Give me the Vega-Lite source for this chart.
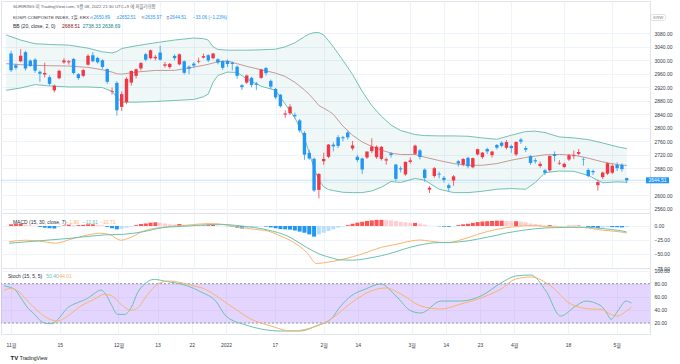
{
"$schema": "https://vega.github.io/schema/vega-lite/v6.json",
"padding": 0,
"background": "white",
"spacing": 0,
"bounds": "flush",
"config": {
  "view": {"stroke": "#e0e3eb"},
  "axis": {"labelFont": "Liberation Sans", "labelFontSize": 5, "labelColor": "#363a45", "ticks": false, "tickSize": 0, "domain": false, "title": null, "gridColor": "#f0f3fa", "gridWidth": 1, "labelOverlap": false, "labelFlush": false, "labelBound": false},
  "text": {"font": "Liberation Sans, Noto Sans CJK KR", "fontSize": 5, "baseline": "middle", "align": "left"}
},
"datasets": {
  "ohlc": [
{"i":-1,"o":3020,"h":3028,"l":2965,"c":2970.7},{"i":0,"o":2985,"h":2990,"l":2972,"c":2978},{"i":1,"o":2997,"h":3033,"l":2994,"c":3013.4},{"i":2,"o":3024,"h":3028,"l":2970,"c":2975.7},{"i":3,"o":2999,"h":3003,"l":2980,"c":2983.2},{"i":4,"o":3002,"h":3006,"l":2963,"c":2969.3},{"i":5,"o":2966,"h":2970,"l":2936,"c":2960.2},{"i":6,"o":2958,"h":2993,"l":2949,"c":2962.5},{"i":7,"o":2950,"h":2955,"l":2925,"c":2930.2},{"i":8,"o":2911,"h":2928,"l":2905,"c":2924.9},{"i":9,"o":2947,"h":2972,"l":2944,"c":2968.8},{"i":10,"o":2994,"h":3006,"l":2990,"c":2999.5},{"i":11,"o":2994,"h":3001,"l":2987,"c":2997.2},{"i":12,"o":3004,"h":3007,"l":2958,"c":2962.4},{"i":13,"o":2959,"h":2962,"l":2942,"c":2947.4},{"i":14,"o":2954,"h":2975,"l":2950,"c":2971},{"i":15,"o":2987,"h":3018,"l":2984,"c":3013.3},{"i":16,"o":3015,"h":3024,"l":2994,"c":2997.3},{"i":17,"o":3007,"h":3010,"l":2990,"c":2994.3},{"i":18,"o":3000,"h":3003,"l":2975,"c":2980.3},{"i":19,"o":2974,"h":2976,"l":2930,"c":2936.4},{"i":20,"o":2907,"h":2919,"l":2898,"c":2909.3},{"i":21,"o":2933,"h":2938,"l":2836,"c":2852},{"i":22,"o":2862,"h":2908,"l":2850,"c":2899.7},{"i":23,"o":2876,"h":2950,"l":2870,"c":2945.3},{"i":24,"o":2934,"h":2970,"l":2925,"c":2968.3},{"i":25,"o":2954,"h":2976,"l":2946,"c":2973.3},{"i":26,"o":2976,"h":2995,"l":2970,"c":2991.7},{"i":27,"o":3018,"h":3022,"l":2997,"c":3001.8},{"i":28,"o":3006,"h":3032,"l":3003,"c":3029.6},{"i":29,"o":3006,"h":3016,"l":3000,"c":3010.2},{"i":30,"o":3023,"h":3043,"l":2999,"c":3001.7},{"i":31,"o":2984,"h":2995,"l":2978,"c":2988},{"i":32,"o":2980,"h":2992,"l":2975,"c":2989.4},{"i":33,"o":3013,"h":3018,"l":3000,"c":3006.4},{"i":34,"o":2988,"h":3020,"l":2985,"c":3017.7},{"i":35,"o":2997,"h":3000,"l":2958,"c":2963},{"i":36,"o":2981,"h":2985,"l":2959,"c":2975},{"i":37,"o":2990,"h":2995,"l":2978,"c":2984.5},{"i":38,"o":2996,"h":3008,"l":2991,"c":2998.2},{"i":39,"o":3008,"h":3020,"l":3005,"c":3012.4},{"i":40,"o":3015,"h":3018,"l":2995,"c":2999.6},{"i":41,"o":3006,"h":3022,"l":3003,"c":3020.2},{"i":42,"o":3003,"h":3006,"l":2988,"c":2993.3},{"i":43,"o":2998,"h":3000,"l":2972,"c":2977.7},{"i":44,"o":2998,"h":3002,"l":2980,"c":2988.8},{"i":45,"o":2993,"h":2996,"l":2970,"c":2989.2},{"i":46,"o":2981,"h":2985,"l":2945,"c":2954},{"i":47,"o":2926,"h":2930,"l":2912,"c":2920.5},{"i":48,"o":2934,"h":2958,"l":2930,"c":2954.9},{"i":49,"o":2948,"h":2951,"l":2920,"c":2926.7},{"i":50,"o":2931,"h":2936,"l":2912,"c":2927.4},{"i":51,"o":2948,"h":2975,"l":2945,"c":2972.5},{"i":52,"o":2977,"h":2980,"l":2955,"c":2962.1},{"i":53,"o":2939,"h":2943,"l":2915,"c":2921.9},{"i":54,"o":2915,"h":2918,"l":2885,"c":2890.1},{"i":55,"o":2898,"h":2900,"l":2860,"c":2864.2},{"i":56,"o":2839,"h":2852,"l":2830,"c":2842.3},{"i":57,"o":2843,"h":2870,"l":2838,"c":2862.7},{"i":58,"o":2838,"h":2845,"l":2828,"c":2834.3},{"i":59,"o":2822,"h":2826,"l":2786,"c":2792},{"i":60,"o":2785,"h":2790,"l":2705,"c":2720.4},{"i":61,"o":2726,"h":2735,"l":2705,"c":2709.2},{"i":62,"o":2708,"h":2712,"l":2610,"c":2614.5},{"i":63,"o":2616,"h":2666,"l":2591,"c":2663.3},{"i":64,"o":2701,"h":2726,"l":2690,"c":2707.8},{"i":65,"o":2714,"h":2752,"l":2710,"c":2750.3},{"i":66,"o":2750,"h":2757,"l":2730,"c":2745.1},{"i":67,"o":2772,"h":2778,"l":2740,"c":2746.5},{"i":68,"o":2772,"h":2776,"l":2760,"c":2768.9},{"i":69,"o":2786,"h":2790,"l":2765,"c":2771.9},{"i":70,"o":2739,"h":2761,"l":2733,"c":2747.7},{"i":71,"o":2714,"h":2720,"l":2698,"c":2704.5},{"i":72,"o":2709,"h":2712,"l":2663,"c":2676.5},{"i":73,"o":2712,"h":2730,"l":2708,"c":2729.7},{"i":74,"o":2731,"h":2769,"l":2725,"c":2744.5},{"i":75,"o":2713,"h":2748,"l":2708,"c":2744.1},{"i":76,"o":2708,"h":2746,"l":2703,"c":2743.8},{"i":77,"o":2703,"h":2712,"l":2691,"c":2706.8},{"i":78,"o":2724,"h":2728,"l":2712,"c":2719.5},{"i":79,"o":2691,"h":2693,"l":2643,"c":2648.8},{"i":80,"o":2680,"h":2686,"l":2668,"c":2676.8},{"i":81,"o":2662,"h":2700,"l":2658,"c":2699.2},{"i":82,"o":2699,"h":2712,"l":2694,"c":2703.5},{"i":83,"o":2723,"h":2750,"l":2720,"c":2747.1},{"i":84,"o":2733,"h":2737,"l":2706,"c":2713.4},{"i":85,"o":2676,"h":2680,"l":2640,"c":2651.3},{"i":86,"o":2617,"h":2628,"l":2607,"c":2622.4},{"i":87,"o":2657,"h":2684,"l":2652,"c":2680.3},{"i":88,"o":2664,"h":2670,"l":2650,"c":2661.3},{"i":89,"o":2652,"h":2657,"l":2638,"c":2645.7},{"i":90,"o":2630,"h":2635,"l":2612,"c":2621.5},{"i":91,"o":2644,"h":2660,"l":2628,"c":2656.1},{"i":92,"o":2701,"h":2705,"l":2685,"c":2694.5},{"i":93,"o":2691,"h":2710,"l":2686,"c":2707.6},{"i":94,"o":2711,"h":2714,"l":2680,"c":2686.1},{"i":95,"o":2683,"h":2712,"l":2680,"c":2710},{"i":96,"o":2721,"h":2738,"l":2718,"c":2736.6},{"i":97,"o":2713,"h":2728,"l":2708,"c":2726.5},{"i":98,"o":2737,"h":2741,"l":2722,"c":2730},{"i":99,"o":2719,"h":2732,"l":2712,"c":2729.6},{"i":100,"o":2749,"h":2752,"l":2736,"c":2741.1},{"i":101,"o":2756,"h":2760,"l":2742,"c":2746.7},{"i":102,"o":2741,"h":2764,"l":2736,"c":2757.7},{"i":103,"o":2746,"h":2750,"l":2726,"c":2739.9},{"i":104,"o":2721,"h":2760,"l":2716,"c":2757.9},{"i":105,"o":2765,"h":2770,"l":2752,"c":2759.2},{"i":106,"o":2740,"h":2746,"l":2728,"c":2735},{"i":107,"o":2716,"h":2719,"l":2690,"c":2695.9},{"i":108,"o":2704,"h":2710,"l":2694,"c":2700.4},{"i":109,"o":2687,"h":2700,"l":2682,"c":2693.1},{"i":110,"o":2674,"h":2678,"l":2660,"c":2666.8},{"i":111,"o":2674,"h":2718,"l":2670,"c":2716.7},{"i":112,"o":2722,"h":2730,"l":2700,"c":2716.5},{"i":113,"o":2694,"h":2704,"l":2690,"c":2696.1},{"i":114,"o":2684,"h":2697,"l":2680,"c":2693.2},{"i":115,"o":2706,"h":2722,"l":2702,"c":2718.9},{"i":116,"o":2716,"h":2733,"l":2707,"c":2718.7},{"i":117,"o":2723,"h":2737,"l":2718,"c":2728.2},{"i":118,"o":2706,"h":2712,"l":2688,"c":2704.7},{"i":119,"o":2675,"h":2680,"l":2653,"c":2657.1},{"i":120,"o":2672,"h":2676,"l":2660,"c":2668.3},{"i":121,"o":2630,"h":2645,"l":2614,"c":2639.1},{"i":122,"o":2654,"h":2670,"l":2648,"c":2667.5},{"i":123,"o":2664,"h":2697,"l":2660,"c":2695.1},{"i":124,"o":2667,"h":2692,"l":2663,"c":2687.5},{"i":125,"o":2690,"h":2698,"l":2672,"c":2680.5},{"i":126,"o":2690,"h":2695,"l":2670,"c":2677.6},{"i":127,"o":2650.89,"h":2652.51,"l":2635.97,"c":2644.51}
  ],
  "bb": [
{"i":-2,"u":3075,"b":2990,"l":2911},{"i":1,"u":3060,"b":2987,"l":2918},{"i":4,"u":3049,"b":2985,"l":2928},{"i":7,"u":3047,"b":2984,"l":2924},{"i":11,"u":3045,"b":2983,"l":2921},{"i":15,"u":3036,"b":2979,"l":2921},{"i":18,"u":3025,"b":2972,"l":2919},{"i":20,"u":3022,"b":2965,"l":2908},{"i":21,"u":3026,"b":2960,"l":2890},{"i":22,"u":3035,"b":2959,"l":2876},{"i":25,"u":3043,"b":2965,"l":2876},{"i":29,"u":3052,"b":2970,"l":2878},{"i":33,"u":3060,"b":2970,"l":2881},{"i":37,"u":3066,"b":2980,"l":2884},{"i":39,"u":3064,"b":2985,"l":2892},{"i":40,"u":3060,"b":2988,"l":2900},{"i":41,"u":3040,"b":2992,"l":2935},{"i":42,"u":3032,"b":2996,"l":2955},{"i":44,"u":3030,"b":2998,"l":2965},{"i":46,"u":3030,"b":2990,"l":2964},{"i":48,"u":3030,"b":2982,"l":2945},{"i":51,"u":3031,"b":2972,"l":2923},{"i":54,"u":3033,"b":2962,"l":2911},{"i":56,"u":3040,"b":2952,"l":2870},{"i":58,"u":3052,"b":2935,"l":2830},{"i":60,"u":3070,"b":2912,"l":2770},{"i":61,"u":3078,"b":2899,"l":2726},{"i":62,"u":3082,"b":2883,"l":2680},{"i":63,"u":3082,"b":2866,"l":2645},{"i":64,"u":3075,"b":2858,"l":2625},{"i":65,"u":3058,"b":2850,"l":2617},{"i":66,"u":3040,"b":2840,"l":2614},{"i":68,"u":3000,"b":2805,"l":2609},{"i":70,"u":2958,"b":2778,"l":2608},{"i":72,"u":2908,"b":2758,"l":2608},{"i":74,"u":2866,"b":2745,"l":2613},{"i":76,"u":2834,"b":2734,"l":2624},{"i":78,"u":2808,"b":2725,"l":2641},{"i":80,"u":2792,"b":2721,"l":2638},{"i":83,"u":2780,"b":2721,"l":2650},{"i":85,"u":2777,"b":2713,"l":2645},{"i":88,"u":2776,"b":2703,"l":2618},{"i":91,"u":2776,"b":2694,"l":2608},{"i":94,"u":2775,"b":2689,"l":2608},{"i":97,"u":2770,"b":2689,"l":2612},{"i":100,"u":2766,"b":2694,"l":2618},{"i":103,"u":2778,"b":2704,"l":2620},{"i":106,"u":2789,"b":2712,"l":2618},{"i":108,"u":2790,"b":2716,"l":2638},{"i":110,"u":2786,"b":2720,"l":2667},{"i":113,"u":2773,"b":2721,"l":2672},{"i":116,"u":2770,"b":2719,"l":2671},{"i":119,"u":2765,"b":2710,"l":2659},{"i":122,"u":2755,"b":2699,"l":2637},{"i":125,"u":2744,"b":2691,"l":2640},{"i":127,"u":2738.33,"b":2688.51,"l":2638.69}
  ],
  "last": [{"c": 2644.51}],
  "macd": [
{"i":-1.4,"s":"MACD","v":-27.9},{"i":2,"s":"MACD","v":-25.4},{"i":5,"s":"MACD","v":-27},{"i":8.2,"s":"MACD","v":-30.7},{"i":11.5,"s":"MACD","v":-23.5},{"i":15,"s":"MACD","v":-15.9},{"i":17.6,"s":"MACD","v":-13},{"i":19.7,"s":"MACD","v":-15.9},{"i":21.1,"s":"MACD","v":-23.5},{"i":21.8,"s":"MACD","v":-25.4},{"i":23.8,"s":"MACD","v":-20.7},{"i":26.6,"s":"MACD","v":-8.8},{"i":29.9,"s":"MACD","v":-2.9},{"i":33.3,"s":"MACD","v":0},{"i":36,"s":"MACD","v":1.8},{"i":40.1,"s":"MACD","v":4.3},{"i":42.8,"s":"MACD","v":3},{"i":46.9,"s":"MACD","v":-2.9},{"i":49.6,"s":"MACD","v":-5.9},{"i":52.3,"s":"MACD","v":-8.8},{"i":55,"s":"MACD","v":-17.7},{"i":57.8,"s":"MACD","v":-29.6},{"i":60.5,"s":"MACD","v":-47.3},{"i":62.5,"s":"MACD","v":-67},{"i":64.6,"s":"MACD","v":-65},{"i":67.3,"s":"MACD","v":-60.7},{"i":70,"s":"MACD","v":-55},{"i":73,"s":"MACD","v":-47},{"i":76,"s":"MACD","v":-38},{"i":79,"s":"MACD","v":-33},{"i":82,"s":"MACD","v":-27},{"i":84,"s":"MACD","v":-25},{"i":86,"s":"MACD","v":-27},{"i":88,"s":"MACD","v":-29},{"i":90,"s":"MACD","v":-30},{"i":92,"s":"MACD","v":-26},{"i":94,"s":"MACD","v":-21},{"i":96,"s":"MACD","v":-15},{"i":98,"s":"MACD","v":-10},{"i":100,"s":"MACD","v":-6},{"i":102,"s":"MACD","v":-3},{"i":104,"s":"MACD","v":-1},{"i":106,"s":"MACD","v":0.5},{"i":108,"s":"MACD","v":0.5},{"i":110,"s":"MACD","v":-1},{"i":112,"s":"MACD","v":-1.5},{"i":114,"s":"MACD","v":-2},{"i":116,"s":"MACD","v":-2},{"i":118,"s":"MACD","v":-2.5},{"i":120,"s":"MACD","v":-5},{"i":122,"s":"MACD","v":-7.5},{"i":124,"s":"MACD","v":-9},{"i":126,"s":"MACD","v":-11},{"i":127,"s":"MACD","v":-12.61},
{"i":-1.4,"s":"Signal","v":-30.7},{"i":4.7,"s":"Signal","v":-26.6},{"i":11.5,"s":"Signal","v":-21.8},{"i":18.4,"s":"Signal","v":-15.9},{"i":22.4,"s":"Signal","v":-14.8},{"i":26.6,"s":"Signal","v":-10},{"i":30.6,"s":"Signal","v":-2.9},{"i":36,"s":"Signal","v":0},{"i":42.1,"s":"Signal","v":3},{"i":46.9,"s":"Signal","v":0},{"i":52.3,"s":"Signal","v":-7},{"i":56.4,"s":"Signal","v":-17.7},{"i":60.5,"s":"Signal","v":-38.4},{"i":63.2,"s":"Signal","v":-50.4},{"i":65.9,"s":"Signal","v":-57.5},{"i":67.3,"s":"Signal","v":-60.4},{"i":70,"s":"Signal","v":-61},{"i":73,"s":"Signal","v":-58},{"i":76,"s":"Signal","v":-53},{"i":79,"s":"Signal","v":-46},{"i":82,"s":"Signal","v":-38},{"i":84,"s":"Signal","v":-34},{"i":86,"s":"Signal","v":-31},{"i":88,"s":"Signal","v":-29.5},{"i":90,"s":"Signal","v":-29.3},{"i":92,"s":"Signal","v":-28.5},{"i":94,"s":"Signal","v":-26.5},{"i":96,"s":"Signal","v":-23.5},{"i":98,"s":"Signal","v":-20},{"i":100,"s":"Signal","v":-16.5},{"i":102,"s":"Signal","v":-12.5},{"i":104,"s":"Signal","v":-9.5},{"i":106,"s":"Signal","v":-7},{"i":108,"s":"Signal","v":-5},{"i":110,"s":"Signal","v":-3.5},{"i":112,"s":"Signal","v":-3},{"i":114,"s":"Signal","v":-2.5},{"i":116,"s":"Signal","v":-2.3},{"i":118,"s":"Signal","v":-2.3},{"i":120,"s":"Signal","v":-3},{"i":122,"s":"Signal","v":-4.6},{"i":124,"s":"Signal","v":-6.5},{"i":126,"s":"Signal","v":-8.8},{"i":127,"s":"Signal","v":-10.71}
  ],
  "hist": [
{"i":-1,"h":3},{"i":0,"h":3.5},{"i":1,"h":4},{"i":2,"h":2.5},{"i":3,"h":1.5},{"i":4,"h":0.5},{"i":5,"h":-1.5},{"i":6,"h":-3},{"i":7,"h":-4},{"i":8,"h":-4.5},{"i":9,"h":-2},{"i":10,"h":1},{"i":11,"h":2.5},{"i":12,"h":1.5},{"i":13,"h":1.5},{"i":14,"h":2},{"i":15,"h":3},{"i":16,"h":3},{"i":17,"h":2.5},{"i":18,"h":1.5},{"i":19,"h":-1.5},{"i":20,"h":-4},{"i":21,"h":-6},{"i":22,"h":-5},{"i":23,"h":-3},{"i":24,"h":-1},{"i":25,"h":1.5},{"i":26,"h":3.5},{"i":27,"h":4.5},{"i":28,"h":6},{"i":29,"h":6.5},{"i":30,"h":6},{"i":31,"h":4.5},{"i":32,"h":3},{"i":33,"h":2.5},{"i":34,"h":3.5},{"i":35,"h":1.5},{"i":36,"h":0.5},{"i":37,"h":0.3},{"i":38,"h":0.5},{"i":39,"h":1},{"i":40,"h":1.5},{"i":41,"h":2},{"i":42,"h":1},{"i":43,"h":0.3},{"i":44,"h":-0.3},{"i":45,"h":-1},{"i":46,"h":-3},{"i":47,"h":-4.5},{"i":48,"h":-3},{"i":49,"h":-2.5},{"i":50,"h":-2},{"i":51,"h":-0.5},{"i":52,"h":-1},{"i":53,"h":-2.5},{"i":54,"h":-4},{"i":55,"h":-5.5},{"i":56,"h":-6},{"i":57,"h":-6.5},{"i":58,"h":-8},{"i":59,"h":-10},{"i":60,"h":-12},{"i":61,"h":-15},{"i":62,"h":-19},{"i":63,"h":-15},{"i":64,"h":-12},{"i":65,"h":-9},{"i":66,"h":-6},{"i":67,"h":-3},{"i":68,"h":-1},{"i":69,"h":1.5},{"i":70,"h":4},{"i":71,"h":6},{"i":72,"h":7.5},{"i":73,"h":9},{"i":74,"h":10},{"i":75,"h":11},{"i":76,"h":11},{"i":77,"h":10.5},{"i":78,"h":10},{"i":79,"h":9},{"i":80,"h":7.5},{"i":81,"h":6.5},{"i":82,"h":5.5},{"i":83,"h":5.5},{"i":84,"h":4.5},{"i":85,"h":2.5},{"i":86,"h":0.5},{"i":87,"h":0.2},{"i":88,"h":-0.5},{"i":89,"h":-1.2},{"i":90,"h":-1.5},{"i":91,"h":-0.5},{"i":92,"h":1.5},{"i":93,"h":3},{"i":94,"h":4},{"i":95,"h":5.5},{"i":96,"h":7},{"i":97,"h":8},{"i":98,"h":8.5},{"i":99,"h":9},{"i":100,"h":9.5},{"i":101,"h":9.5},{"i":102,"h":9},{"i":103,"h":8.5},{"i":104,"h":8.5},{"i":105,"h":8},{"i":106,"h":6.5},{"i":107,"h":4.5},{"i":108,"h":3.5},{"i":109,"h":2.5},{"i":110,"h":1},{"i":111,"h":1.5},{"i":112,"h":1},{"i":113,"h":0.3},{"i":114,"h":0},{"i":115,"h":0.5},{"i":116,"h":0.5},{"i":117,"h":0.8},{"i":118,"h":0.2},{"i":119,"h":-1.5},{"i":120,"h":-2.2},{"i":121,"h":-3.5},{"i":122,"h":-3},{"i":123,"h":-2},{"i":124,"h":-2},{"i":125,"h":-2.2},{"i":126,"h":-2.5},{"i":127,"h":-1.9}
  ],
  "stoch": [
{"i":-1.4,"s":"K","v":76.4},{"i":0.7,"s":"K","v":71.4},{"i":2,"s":"K","v":58.6},{"i":3.4,"s":"K","v":43.3},{"i":4.8,"s":"K","v":33.3},{"i":6.1,"s":"K","v":23},{"i":7.5,"s":"K","v":19},{"i":8.5,"s":"K","v":19},{"i":9.6,"s":"K","v":25.6},{"i":11.6,"s":"K","v":43.3},{"i":13.6,"s":"K","v":51},{"i":15.7,"s":"K","v":57.7},{"i":17,"s":"K","v":64.7},{"i":18.4,"s":"K","v":70.3},{"i":19.4,"s":"K","v":63.8},{"i":20.5,"s":"K","v":48.5},{"i":21.8,"s":"K","v":33.3},{"i":23.2,"s":"K","v":33},{"i":24.6,"s":"K","v":43.3},{"i":25.9,"s":"K","v":66.2},{"i":27.3,"s":"K","v":79},{"i":29.3,"s":"K","v":86.6},{"i":31.4,"s":"K","v":84},{"i":33.4,"s":"K","v":81.5},{"i":36.2,"s":"K","v":76.4},{"i":38.9,"s":"K","v":67.3},{"i":41.9,"s":"K","v":53.5},{"i":44,"s":"K","v":30.6},{"i":48.1,"s":"K","v":16.9},{"i":51.2,"s":"K","v":10.8},{"i":55.2,"s":"K","v":7.8},{"i":59.3,"s":"K","v":7.8},{"i":62.4,"s":"K","v":15.4},{"i":65.5,"s":"K","v":26},{"i":67.5,"s":"K","v":45.9},{"i":69.6,"s":"K","v":61.2},{"i":72.6,"s":"K","v":71.9},{"i":75.7,"s":"K","v":79.5},{"i":78.8,"s":"K","v":61.2},{"i":81.9,"s":"K","v":38.3},{"i":83.9,"s":"K","v":35.2},{"i":88,"s":"K","v":53.5},{"i":92.1,"s":"K","v":53.5},{"i":96.2,"s":"K","v":61.2},{"i":100.3,"s":"K","v":81},{"i":103.3,"s":"K","v":91.7},{"i":106.4,"s":"K","v":93.2},{"i":109.5,"s":"K","v":68.8},{"i":112.5,"s":"K","v":30.6},{"i":115.6,"s":"K","v":45.9},{"i":117.7,"s":"K","v":53.5},{"i":120.8,"s":"K","v":45.9},{"i":122.1,"s":"K","v":33.2},{"i":122.8,"s":"K","v":25.6},{"i":124.2,"s":"K","v":38.3},{"i":125.9,"s":"K","v":53.5},{"i":127,"s":"K","v":50.4},
{"i":-1.4,"s":"D","v":69.9},{"i":0,"s":"D","v":72.9},{"i":1.4,"s":"D","v":68.8},{"i":3.4,"s":"D","v":53.5},{"i":5.5,"s":"D","v":38.3},{"i":7.5,"s":"D","v":27.1},{"i":9.6,"s":"D","v":23},{"i":11.6,"s":"D","v":30.7},{"i":14.3,"s":"D","v":45.9},{"i":17,"s":"D","v":56.1},{"i":19.1,"s":"D","v":63.8},{"i":20.5,"s":"D","v":62},{"i":22.5,"s":"D","v":48.5},{"i":24.6,"s":"D","v":39.3},{"i":25.9,"s":"D","v":43},{"i":28,"s":"D","v":63.8},{"i":30,"s":"D","v":79},{"i":32.1,"s":"D","v":84},{"i":34.8,"s":"D","v":81.5},{"i":37.5,"s":"D","v":76.4},{"i":38.9,"s":"D","v":73.9},{"i":45,"s":"D","v":45.9},{"i":49.1,"s":"D","v":26},{"i":53.2,"s":"D","v":15.4},{"i":57.3,"s":"D","v":7.8},{"i":61.4,"s":"D","v":12.4},{"i":65.5,"s":"D","v":26},{"i":69.6,"s":"D","v":50.5},{"i":73.7,"s":"D","v":68.8},{"i":76.7,"s":"D","v":73.4},{"i":79.8,"s":"D","v":64.2},{"i":83.9,"s":"D","v":45.9},{"i":88,"s":"D","v":41.3},{"i":92.1,"s":"D","v":49},{"i":96.2,"s":"D","v":58.1},{"i":100.3,"s":"D","v":71.9},{"i":103.3,"s":"D","v":87.1},{"i":106.4,"s":"D","v":90.2},{"i":110.5,"s":"D","v":76.4},{"i":114.6,"s":"D","v":49},{"i":118.7,"s":"D","v":41.3},{"i":120.8,"s":"D","v":40.9},{"i":122.8,"s":"D","v":33.2},{"i":124.2,"s":"D","v":30.6},{"i":125.5,"s":"D","v":35.7},{"i":127,"s":"D","v":44.01}
  ],
  "lvl": [{"v": 80}, {"v": 20}],
  "band": [{"hi": 80, "lo": 20}]
},
"vconcat": [
{
  "width": 649, "height": 212,
  "layer": [
    {"data": {"name": "bb"}, "mark": {"type": "area", "color": "#198787", "opacity": 0.07},
     "encoding": {
       "x": {"field": "i", "type": "quantitative", "scale": {"domain": [-2.05, 130.8], "nice": false, "zero": false}, "axis": {"values": [0,10,22,30,37,44,54,64,71,82,89,96,103,114,124], "tickCount": 100, "labels": false, "grid": true, "labelOverlap": false}},
       "y": {"field": "u", "type": "quantitative", "scale": {"domain": [2547.6, 3175.7], "nice": false, "zero": false}, "axis": {"orient": "right", "values": [2560,2600,2640,2680,2720,2760,2800,2840,2880,2920,2960,3000,3040,3080], "tickCount": 100, "labelExpr": "datum.value == 2640 ? '' : format(datum.value, '.2f')", "labelPadding": 4, "grid": true, "labelOverlap": false}},
       "y2": {"field": "l"}}},
    {"data": {"name": "bb"}, "mark": {"type": "line", "color": "#74c1b3", "strokeWidth": 1},
     "encoding": {"x": {"field": "i", "type": "quantitative", "scale": {"domain": [-2.05, 130.8], "nice": false, "zero": false}},
       "y": {"field": "u", "type": "quantitative", "scale": {"domain": [2547.6, 3175.7], "nice": false, "zero": false}}}},
    {"data": {"name": "bb"}, "mark": {"type": "line", "color": "#74c1b3", "strokeWidth": 1},
     "encoding": {"x": {"field": "i", "type": "quantitative", "scale": {"domain": [-2.05, 130.8], "nice": false, "zero": false}},
       "y": {"field": "l", "type": "quantitative", "scale": {"domain": [2547.6, 3175.7], "nice": false, "zero": false}}}},
    {"data": {"name": "bb"}, "mark": {"type": "line", "color": "#c39b98", "strokeWidth": 1},
     "encoding": {"x": {"field": "i", "type": "quantitative", "scale": {"domain": [-2.05, 130.8], "nice": false, "zero": false}},
       "y": {"field": "b", "type": "quantitative", "scale": {"domain": [2547.6, 3175.7], "nice": false, "zero": false}}}},
    {"data": {"name": "last"}, "mark": {"type": "rule", "color": "#2196f3", "opacity": 0.25, "strokeWidth": 1},
     "encoding": {"y": {"field": "c", "type": "quantitative", "scale": {"domain": [2547.6, 3175.7], "nice": false, "zero": false}}}},
    {"data": {"name": "ohlc"}, "mark": {"type": "rule", "strokeWidth": 1, "opacity": 0.75},
     "encoding": {"x": {"field": "i", "type": "quantitative", "scale": {"domain": [-2.05, 130.8], "nice": false, "zero": false}},
       "y": {"field": "l", "type": "quantitative", "scale": {"domain": [2547.6, 3175.7], "nice": false, "zero": false}},
       "y2": {"field": "h"},
       "color": {"condition": {"test": "datum.c >= datum.o", "value": "#f23645"}, "value": "#2196f3"}}},
    {"data": {"name": "ohlc"}, "mark": {"type": "bar", "size": 3.4},
     "encoding": {"x": {"field": "i", "type": "quantitative", "scale": {"domain": [-2.05, 130.8], "nice": false, "zero": false}},
       "y": {"field": "o", "type": "quantitative", "scale": {"domain": [2547.6, 3175.7], "nice": false, "zero": false}},
       "y2": {"field": "c"},
       "color": {"condition": {"test": "datum.c >= datum.o", "value": "#f23645"}, "value": "#2196f3"}}},
    {"data": {"name": "last"}, "mark": {"type": "rect", "color": "#2196f3", "yOffset": -3, "y2Offset": 3},
     "encoding": {"x": {"datum": 131.0, "type": "quantitative", "scale": {"domain": [-2.05, 130.8], "nice": false, "zero": false}},
       "x2": {"datum": 135.8},
       "y": {"field": "c", "type": "quantitative", "scale": {"domain": [2547.6, 3175.7], "nice": false, "zero": false}},
       "y2": {"field": "c"}}},
    {"data": {"name": "last"}, "mark": {"type": "text", "color": "white", "align": "center"},
     "encoding": {"x": {"datum": 133.4, "type": "quantitative", "scale": {"domain": [-2.05, 130.8], "nice": false, "zero": false}},
       "y": {"field": "c", "type": "quantitative", "scale": {"domain": [2547.6, 3175.7], "nice": false, "zero": false}},
       "text": {"field": "c", "format": ".2f"}}},
    {"data": {"values": [{}]}, "mark": {"type": "rect", "fill": "white", "stroke": "#d1d4dc", "strokeWidth": 0.7, "cornerRadius": 2},
     "encoding": {"x": {"datum": 132.0, "type": "quantitative", "scale": {"domain": [-2.05, 130.8], "nice": false, "zero": false}},
       "x2": {"datum": 135.1},
       "y": {"datum": 3135.7, "type": "quantitative", "scale": {"domain": [2547.6, 3175.7], "nice": false, "zero": false}},
       "y2": {"datum": 3117.9}}},
    {"data": {"values": [{}]}, "mark": {"type": "text", "color": "#787b86", "align": "center", "fontSize": 4.3},
     "encoding": {"x": {"datum": 133.57, "type": "quantitative", "scale": {"domain": [-2.05, 130.8], "nice": false, "zero": false}},
       "y": {"datum": 3126.8, "type": "quantitative", "scale": {"domain": [2547.6, 3175.7], "nice": false, "zero": false}},
       "text": {"value": "KRW"}}},
    {"data": {"values": [{}]}, "mark": {"type": "text", "color": "#5d606b", "fontSize": 4.4},
     "encoding": {"x": {"datum": -0.62, "type": "quantitative", "scale": {"domain": [-2.05, 130.8], "nice": false, "zero": false}},
       "y": {"datum": 3159.4, "type": "quantitative", "scale": {"domain": [2547.6, 3175.7], "nice": false, "zero": false}},
       "text": {"value": "SURIRING 이 TradingView.com, 5월 08, 2022 21:30 UTC+9 에 퍼블리쉬함"}}},
    {"data": {"values": [{}]}, "mark": {"type": "text", "color": "#2a2e39", "fontSize": 4.4},
     "encoding": {"x": {"datum": -0.62, "type": "quantitative", "scale": {"domain": [-2.05, 130.8], "nice": false, "zero": false}},
       "y": {"datum": 3126.2, "type": "quantitative", "scale": {"domain": [2547.6, 3175.7], "nice": false, "zero": false}},
       "text": {"value": "KOSPI COMPOSITE INDEX, 1일, KRX"}}},
    {"data": {"values": [{"t": "시", "x": 15.35}, {"t": "고", "x": 20.84}, {"t": "저", "x": 26.05}, {"t": "종", "x": 31.25}]}, "mark": {"type": "text", "color": "#5d606b", "fontSize": 3.6},
     "encoding": {"x": {"field": "x", "type": "quantitative", "scale": {"domain": [-2.05, 130.8], "nice": false, "zero": false}},
       "y": {"datum": 3126.2, "type": "quantitative", "scale": {"domain": [2547.6, 3175.7], "nice": false, "zero": false}},
       "text": {"field": "t"}}},
    {"data": {"values": [{"t": "2650.89", "x": 16.15}, {"t": "2652.51", "x": 21.5}, {"t": "2635.97", "x": 26.85}, {"t": "2644.51", "x": 32.0}, {"t": "−33.06 (−1.23%)", "x": 36.8}]}, "mark": {"type": "text", "color": "#2196f3", "fontSize": 4.6},
     "encoding": {"x": {"field": "x", "type": "quantitative", "scale": {"domain": [-2.05, 130.8], "nice": false, "zero": false}},
       "y": {"datum": 3126.2, "type": "quantitative", "scale": {"domain": [2547.6, 3175.7], "nice": false, "zero": false}},
       "text": {"field": "t"}}},
    {"data": {"values": [{}]}, "mark": {"type": "text", "color": "#2a2e39"},
     "encoding": {"x": {"datum": -0.62, "type": "quantitative", "scale": {"domain": [-2.05, 130.8], "nice": false, "zero": false}},
       "y": {"datum": 3101.6, "type": "quantitative", "scale": {"domain": [2547.6, 3175.7], "nice": false, "zero": false}},
       "text": {"value": "BB (20, close, 2, 0)"}}},
    {"data": {"values": [{}]}, "mark": {"type": "text", "color": "#872323"},
     "encoding": {"x": {"datum": 9.6, "type": "quantitative", "scale": {"domain": [-2.05, 130.8], "nice": false, "zero": false}},
       "y": {"datum": 3101.6, "type": "quantitative", "scale": {"domain": [2547.6, 3175.7], "nice": false, "zero": false}},
       "text": {"value": "2688.51"}}},
    {"data": {"values": [{}]}, "mark": {"type": "text", "color": "#138484"},
     "encoding": {"x": {"datum": 13.9, "type": "quantitative", "scale": {"domain": [-2.05, 130.8], "nice": false, "zero": false}},
       "y": {"datum": 3101.6, "type": "quantitative", "scale": {"domain": [2547.6, 3175.7], "nice": false, "zero": false}},
       "text": {"value": "2738.33  2638.69"}}}
  ]
},
{
  "width": 649, "height": 55,
  "layer": [
    {"data": {"name": "hist"},
     "transform": [{"window": [{"op": "lag", "field": "h", "as": "p"}], "sort": [{"field": "i", "order": "ascending"}]}],
     "mark": {"type": "bar", "size": 4},
     "encoding": {
       "x": {"field": "i", "type": "quantitative", "scale": {"domain": [-2.05, 130.8], "nice": false, "zero": false}, "axis": {"values": [0,10,22,30,37,44,54,64,71,82,89,96,103,114,124], "tickCount": 100, "labels": false, "grid": true, "labelOverlap": false}},
       "y": {"field": "h", "type": "quantitative", "scale": {"domain": [-75, 23.2], "nice": false, "zero": false}, "axis": {"orient": "right", "values": [-75, -50, -25, 0], "tickCount": 100, "format": ".2f", "labelPadding": 4, "grid": true, "labelOverlap": false}},
       "y2": {"datum": 0},
       "color": {"condition": [
         {"test": "datum.h >= 0 && (datum.p == null || datum.h >= datum.p)", "value": "#ff5252"},
         {"test": "datum.h >= 0", "value": "#ffcdd2"},
         {"test": "datum.p == null || datum.h <= datum.p", "value": "#2196f3"}], "value": "#bbdefb"}}},
    {"data": {"name": "macd"}, "mark": {"type": "line", "strokeWidth": 1, "interpolate": "monotone"},
     "encoding": {
       "x": {"field": "i", "type": "quantitative", "scale": {"domain": [-2.05, 130.8], "nice": false, "zero": false}},
       "y": {"field": "v", "type": "quantitative", "scale": {"domain": [-75, 23.2], "nice": false, "zero": false}},
       "color": {"field": "s", "type": "nominal", "scale": {"domain": ["MACD", "Signal"], "range": ["#f9b46a", "#6cc2ae"]}, "legend": null}}},
    {"data": {"values": [{}]}, "mark": {"type": "text", "color": "#2a2e39"},
     "encoding": {"x": {"datum": -0.62, "type": "quantitative", "scale": {"domain": [-2.05, 130.8], "nice": false, "zero": false}},
       "y": {"datum": 7.1, "type": "quantitative", "scale": {"domain": [-75, 23.2], "nice": false, "zero": false}},
       "text": {"value": "MACD (15, 30, close, 7)"}}},
    {"data": {"values": [{"t": "−1.90", "x": 10.5, "k": "h"}, {"t": "−12.61", "x": 13.9, "k": "m"}, {"t": "−10.71", "x": 17.5, "k": "s"}]}, "mark": {"type": "text"},
     "encoding": {"x": {"field": "x", "type": "quantitative", "scale": {"domain": [-2.05, 130.8], "nice": false, "zero": false}},
       "y": {"datum": 7.1, "type": "quantitative", "scale": {"domain": [-75, 23.2], "nice": false, "zero": false}},
       "text": {"field": "t"},
       "color": {"field": "k", "type": "nominal", "scale": {"domain": ["h", "m", "s"], "range": ["#2196f3", "#ff9800", "#26a69a"]}, "legend": null}}}
  ]
},
{
  "width": 649, "height": 66,
  "layer": [
    {"data": {"name": "band"}, "mark": {"type": "rect", "color": "#b388ff", "opacity": 0.35},
     "encoding": {
       "x": {"datum": -2.05, "type": "quantitative", "scale": {"domain": [-2.05, 130.8], "nice": false, "zero": false}, "axis": {"values": [0,10,22,30,37,44,54,64,71,82,89,96,103,114,124], "tickCount": 100, "labelExpr": "datum.value==0?'11월':datum.value==10?'15':datum.value==22?'12월':datum.value==30?'13':datum.value==37?'22':datum.value==44?'2022':datum.value==54?'17':datum.value==64?'2월':datum.value==71?'14':datum.value==82?'3월':datum.value==89?'14':datum.value==96?'23':datum.value==103?'4월':datum.value==114?'18':'5월'", "labelFont": "Liberation Sans, Noto Sans CJK KR", "labelPadding": 8, "grid": true, "labelOverlap": false}},
       "x2": {"datum": 130.8},
       "y": {"field": "hi", "type": "quantitative", "scale": {"domain": [3.2, 103.9], "nice": false, "zero": false}, "axis": {"orient": "right", "values": [20, 40, 60, 80, 100], "tickCount": 100, "format": ".2f", "labelPadding": 4, "grid": true, "labelOverlap": false}},
       "y2": {"field": "lo"}}},
    {"data": {"name": "lvl"}, "mark": {"type": "rule", "color": "#9598a1", "strokeWidth": 1, "strokeDash": [2, 2]},
     "encoding": {"y": {"field": "v", "type": "quantitative", "scale": {"domain": [3.2, 103.9], "nice": false, "zero": false}}}},
    {"data": {"name": "stoch"}, "mark": {"type": "line", "strokeWidth": 1, "interpolate": "monotone"},
     "encoding": {
       "x": {"field": "i", "type": "quantitative", "scale": {"domain": [-2.05, 130.8], "nice": false, "zero": false}},
       "y": {"field": "v", "type": "quantitative", "scale": {"domain": [3.2, 103.9], "nice": false, "zero": false}},
       "color": {"field": "s", "type": "nominal", "scale": {"domain": ["K", "D"], "range": ["#f4a27a", "#6f98d6"]}, "legend": null}}},
    {"data": {"values": [{}]}, "mark": {"type": "text", "color": "#2a2e39"},
     "encoding": {"x": {"datum": -0.62, "type": "quantitative", "scale": {"domain": [-2.05, 130.8], "nice": false, "zero": false}},
       "y": {"datum": 91.7, "type": "quantitative", "scale": {"domain": [3.2, 103.9], "nice": false, "zero": false}},
       "text": {"value": "Stoch (15, 5, 5)"}}},
    {"data": {"values": [{"t": "50.40", "x": 7.2, "k": "K"}, {"t": "44.01", "x": 9.9, "k": "D"}]}, "mark": {"type": "text"},
     "encoding": {"x": {"field": "x", "type": "quantitative", "scale": {"domain": [-2.05, 130.8], "nice": false, "zero": false}},
       "y": {"datum": 91.7, "type": "quantitative", "scale": {"domain": [3.2, 103.9], "nice": false, "zero": false}},
       "text": {"field": "t"},
       "color": {"field": "k", "type": "nominal", "scale": {"domain": ["K", "D"], "range": ["#ff9800", "#26a69a"]}, "legend": null}}},
    {"data": {"values": [{}]}, "mark": {"type": "text", "color": "#131722", "fontSize": 6, "fontWeight": "bold"},
     "encoding": {"x": {"datum": -0.1, "type": "quantitative", "scale": {"domain": [-2.05, 130.8], "nice": false, "zero": false}},
       "y": {"datum": -33.4, "type": "quantitative", "scale": {"domain": [3.2, 103.9], "nice": false, "zero": false}},
       "text": {"value": "TV"}}},
    {"data": {"values": [{}]}, "mark": {"type": "text", "color": "#131722", "fontSize": 5},
     "encoding": {"x": {"datum": 1.8, "type": "quantitative", "scale": {"domain": [-2.05, 130.8], "nice": false, "zero": false}},
       "y": {"datum": -33.4, "type": "quantitative", "scale": {"domain": [3.2, 103.9], "nice": false, "zero": false}},
       "text": {"value": "TradingView"}}}
  ]
}
]
}
